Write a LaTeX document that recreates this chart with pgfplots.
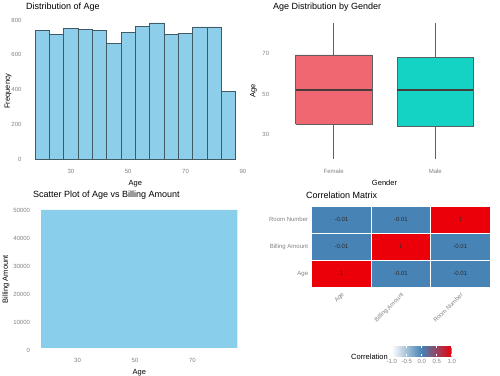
\documentclass[border=0pt]{standalone}
\usepackage{pgfplots}
\pgfplotsset{compat=1.18}
\usepackage{pgfplotstable}
\usepackage{fontspec}
\setmainfont{Liberation Sans}
\definecolor{tickgray}{RGB}{130,130,130}
\definecolor{histfill}{RGB}{141,207,234}
\definecolor{histedge}{RGB}{65,90,100}
\definecolor{femalefill}{RGB}{239,103,113}
\definecolor{malefill}{RGB}{20,211,196}
\definecolor{boxedge}{RGB}{95,95,95}
\definecolor{medianc}{RGB}{70,60,60}
\definecolor{skyblue}{RGB}{137,207,235}
\definecolor{celltext}{RGB}{45,45,45}
\pgfplotsset{
  panel/.style={
    scale only axis,
    anchor=south west,
    axis line style={draw=none},
    major tick length=0pt,
    tick label style={font=\fontsize{6}{7}\selectfont, text=tickgray},
    label style={font=\fontsize{7.5}{9}\selectfont},
    /pgf/number format/assume math mode=true,
    /pgf/number format/1000 sep={},
    scaled ticks=false,
  },
}
\newcommand{\ttl}[1]{\fontsize{9}{11}\selectfont #1}
\pgfplotstableread{
x y c
0 0 1
1 0 -0.01
2 0 -0.01
0 1 -0.01
1 1 1
2 1 -0.01
0 2 -0.01
1 2 -0.01
2 2 1
}\corrtable
\begin{document}
\begin{tikzpicture}
\path[use as bounding box] (0pt,0pt) rectangle (500pt,375pt);
% ---------- histogram ----------
\begin{axis}[panel, at={(25pt,209.2pt)}, width=220.8pt, height=149.6pt,
  xmin=14, xmax=91, ymin=-39, ymax=822,
  xtick={30,50,70,90}, ytick={0,200,400,600,800},
  xlabel={Age}, ylabel={Frequency},
  ylabel style={at={(axis description cs:-0.077,0.5)}, anchor=center}]
\addplot[ybar interval, fill=histfill, draw=histedge, line width=0.6pt] coordinates {
(17.5,739) (22.5,718) (27.5,754) (32.5,748) (37.5,742) (42.5,664) (47.5,729)
(52.5,764) (57.5,783) (62.5,719) (67.5,723) (72.5,760) (77.5,760) (82.5,387) (87.5,387)};
\end{axis}
\node[anchor=west, inner sep=0pt] at (26pt,368pt) {\ttl{Distribution of Age}};
% ---------- boxplot (Female: whiskers 18-85, box 35-69.3, median 52; Male: 18-85, 33.9-68.1, 52) ----------
\begin{axis}[panel, at={(272.7pt,209.4pt)}, width=223.6pt, height=149.3pt,
  xmin=0.4, xmax=2.6, ymin=14.65, ymax=88.35,
  xtick={1,2}, xticklabels={Female,Male}, ytick={30,50,70},
  xlabel={Gender}, ylabel={Age},
  ylabel style={at={(axis description cs:-0.085,0.5)}, anchor=center}]
% Female
\addplot[draw=boxedge, line width=0.6pt] coordinates {(1,69.3) (1,85)};
\addplot[draw=boxedge, line width=0.6pt] coordinates {(1,18) (1,35)};
\addplot[fill=femalefill, draw=boxedge, line width=0.6pt] coordinates {(0.625,35) (1.375,35) (1.375,69.3) (0.625,69.3) (0.625,35)};
\addplot[draw=medianc, line width=1.4pt] coordinates {(0.625,52) (1.375,52)};
% Male
\addplot[draw=boxedge, line width=0.6pt] coordinates {(2,68.1) (2,85)};
\addplot[draw=boxedge, line width=0.6pt] coordinates {(2,18) (2,33.9)};
\addplot[fill=malefill, draw=boxedge, line width=0.6pt] coordinates {(1.625,33.9) (2.375,33.9) (2.375,68.1) (1.625,68.1) (1.625,33.9)};
\addplot[draw=medianc, line width=1.4pt] coordinates {(1.625,52) (2.375,52)};
\end{axis}
\node[anchor=west, inner sep=0pt] at (273pt,368pt) {\ttl{Age Distribution by Gender}};
% ---------- scatter ----------
\begin{axis}[panel, at={(33.5pt,20pt)}, width=211.5pt, height=151.3pt,
  xmin=14.65, xmax=88.35, ymin=-1800, ymax=52500,
  xtick={30,50,70}, ytick={0,10000,20000,30000,40000,50000},
  xlabel={Age}, ylabel={Billing Amount},
  ylabel style={at={(axis description cs:-0.13,0.5)}, anchor=center}]
\addplot[fill=skyblue, draw=none] coordinates {(17.3,800) (85.7,800) (85.7,50300) (17.3,50300) (17.3,800)};
\end{axis}
\node[anchor=west, inner sep=0pt] at (33pt,180pt) {\ttl{Scatter Plot of Age vs Billing Amount}};
% ---------- correlation heatmap ----------
\begin{axis}[panel, at={(311.7pt,87.7pt)}, width=178.3pt, height=81.3pt,
  xmin=-0.5, xmax=2.5, ymin=-0.5, ymax=2.5, enlargelimits=false,
  xtick={0,1,2}, ytick={0,1,2},
  xticklabels={Age,Billing Amount,Room Number},
  yticklabels={Age,Billing Amount,Room Number},
  xticklabel style={rotate=45, anchor=north east},
  colormap={corr}{rgb255(0cm)=(255,255,255) rgb255(1cm)=(70,130,180) rgb255(2cm)=(235,0,10)},
  point meta min=-1, point meta max=1,
  colorbar horizontal,
  colorbar style={at={(0.617,-0.722)}, anchor=north, scale only axis, width=60pt, height=10pt,
    xtick={-1,-0.5,0,0.5,1}, axis line style={draw=none},
    major tick length=2pt, xtick style={draw=white, line width=0.5pt},
    xticklabel style={font=\fontsize{6}{7}\selectfont, text=tickgray,
      /pgf/number format/fixed, /pgf/number format/fixed zerofill,
      /pgf/number format/precision=1, /pgf/number format/assume math mode=true}}]
\addplot[matrix plot*, mesh/cols=3, point meta=explicit, draw=white, line width=0.5pt] table[meta=c] {\corrtable};
\addplot[only marks, mark=none, point meta=explicit,
  nodes near coords={\pgfmathprintnumber[fixed,precision=2,assume math mode=true]{\pgfplotspointmeta}},
  every node near coord/.append style={font=\fontsize{6}{7}\selectfont, text=celltext, anchor=center}]
  table[meta=c] {\corrtable};
\end{axis}
\node[anchor=west, inner sep=0pt] at (306pt,180pt) {\ttl{Correlation Matrix}};
\node[anchor=east, inner sep=0pt, font=\fontsize{7.5}{9}\selectfont] at (388pt,18pt) {Correlation};
\end{tikzpicture}
\end{document}
